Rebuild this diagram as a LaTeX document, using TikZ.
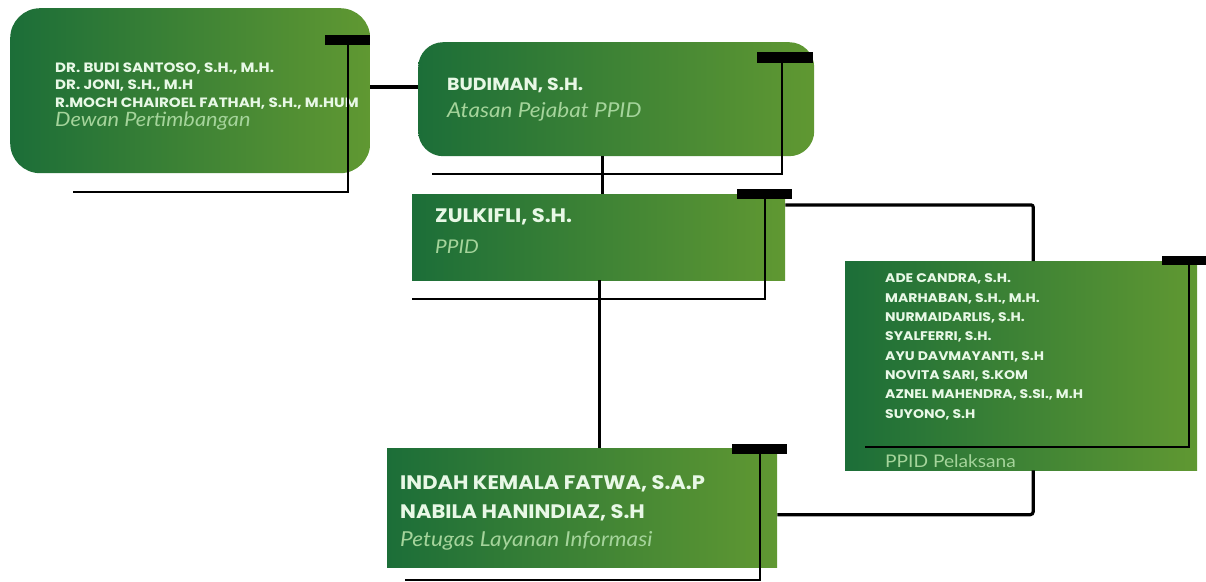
\documentclass[tikz,border=0pt]{standalone}
\usepackage{fontspec}
\setmainfont{Poppins}
\newfontfamily\namefont{Poppins}[FakeStretch=1.08]
\newfontfamily\listfont{Poppins}[FakeStretch=1.12]
\newfontfamily\rolefont{Lato}[FakeStretch=1.1]
\usetikzlibrary{positioning}

\definecolor{greenL}{RGB}{28,110,56}
\definecolor{greenR}{RGB}{96,152,50}
\definecolor{nametext}{RGB}{232,248,230}
\definecolor{subtext}{RGB}{165,212,155}

\begin{document}
\begin{tikzpicture}[
        x=1pt, y=-1pt,
        box/.style={rectangle, anchor=north west, inner sep=0pt,
          left color=greenL, right color=greenR, draw=none},
        names/.style={anchor=base west, inner sep=0pt, align=left,
          text=nametext},
        role/.style={anchor=base west, inner sep=0pt, text=subtext},
        link/.style={line width=3.2pt},
        trim/.style={line width=1.6pt},
        bar/.style={fill=black}
      ]
      \useasboundingbox (0,0) rectangle (1206,581);

      % boxes
      \node[box, rounded corners=30pt, minimum width=360pt, minimum height=165pt] (dewan) at (10,8) {};
      \node[box, rounded corners=25pt, minimum width=396pt, minimum height=114pt] (atasan) at (418,42) {};
      \node[box, minimum width=373pt, minimum height=86pt] (ppid) at (412,194) {};
      \node[box, minimum width=352pt, minimum height=209pt] (pelaksana) at (845,261) {};
      \node[box, minimum width=390pt, minimum height=119pt] (petugas) at (387,448) {};

      % texts (multi-line blocks sit on their last baseline)
      \node[names, font=\listfont\bfseries\fontsize{13.5}{17.5}\selectfont] (dewannames) at (55,107)
        {DR. BUDI SANTOSO, S.H., M.H.\\ DR. JONI, S.H., M.H\\ R.MOCH CHAIROEL FATHAH, S.H., M.HUM};
      \node[role, font=\rolefont\itshape\fontsize{19.8}{20}\selectfont] (dewanrole) at (55,126) {Dewan Pertimbangan};

      \node[names, font=\namefont\bfseries\fontsize{17.5}{20}\selectfont] (atasanname) at (447,90) {BUDIMAN, S.H.};
      \node[role, font=\rolefont\itshape\fontsize{20.5}{21}\selectfont] (atasanrole) at (447,117) {Atasan Pejabat PPID};

      \node[names, font=\namefont\bfseries\fontsize{19.5}{20}\selectfont] (ppidname) at (435,222) {ZULKIFLI, S.H.};
      \node[role, font=\rolefont\itshape\fontsize{18.9}{19}\selectfont] (ppidrole) at (435,253) {PPID};

      \node[names, font=\listfont\bfseries\fontsize{12.5}{19.3}\selectfont] (pelaksananames) at (885,418)
        {ADE CANDRA, S.H.\\ MARHABAN, S.H., M.H.\\ NURMAIDARLIS, S.H.\\ SYALFERRI, S.H.\\
         AYU DAVMAYANTI, S.H\\ NOVITA SARI, S.KOM\\ AZNEL MAHENDRA, S.SI., M.H\\ SUYONO, S.H};
      \node[role, font=\rolefont\fontsize{17.4}{18}\selectfont] (pelaksanarole) at (885,467) {PPID Pelaksana};

      \node[names, font=\namefont\bfseries\fontsize{19.5}{29}\selectfont] (petugasnames) at (400,518)
        {INDAH KEMALA FATWA, S.A.P\\ NABILA HANINDIAZ, S.H};
      \node[role, font=\rolefont\itshape\fontsize{20.6}{21}\selectfont] (petugasrole) at (400,546) {Petugas Layanan Informasi};

      % bars and trims
      \fill[bar] (325,35) rectangle (370,45);
      \draw[trim] (348,45) -- (348,192) -- (73,192);
      \fill[bar] (757,52) rectangle (813,63);
      \draw[trim] (782,63) -- (782,174) -- (432,174);
      \fill[bar] (737,189) rectangle (792,199);
      \draw[trim] (765,199) -- (765,299) -- (412,299);
      \fill[bar] (1162,256) rectangle (1206,265);
      \draw[trim] (1189,265) -- (1189,447) -- (865,447);
      \fill[bar] (732,444) rectangle (787,454);
      \draw[trim] (760,454) -- (760,580) -- (405,580);

      % links
      \draw[link] (dewan.east |- 0,87) -- (atasan.west |- 0,87);
      \draw[link] ([xshift=4pt]ppid.north |- atasan.south) -- ([xshift=4pt]ppid.north);
      \draw[link] ([xshift=1pt]ppid.south) -- ([xshift=1pt]ppid.south |- petugas.north);
      \draw[link, rounded corners=2pt] ([yshift=-11pt]ppid.north east) -| ([xshift=12pt]pelaksana.north);
      \draw[link, rounded corners=3pt] ([xshift=12pt]pelaksana.south) |- ([yshift=-7pt]petugas.east);
    \end{tikzpicture}
\end{document}
